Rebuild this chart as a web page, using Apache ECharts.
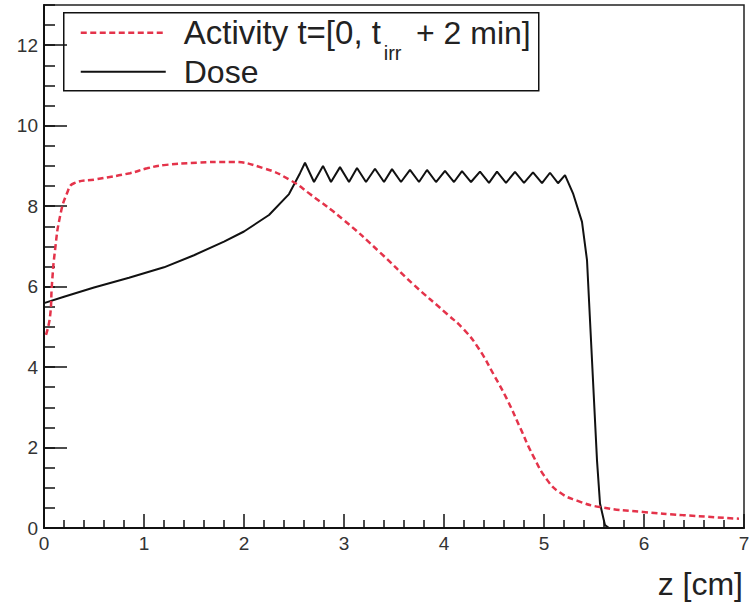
<!DOCTYPE html>
<html>
<head>
<meta charset="utf-8">
<script src="https://cdn.jsdelivr.net/npm/echarts@6/dist/echarts.min.js"></script>
<style>
  html, body { margin: 0; padding: 0; background: #fff; }
  #chart { width: 753px; height: 606px; }
</style>
</head>
<body>
<div id="chart"></div>
<script>
// Depth z [cm] and relative activity (dashed red curve)
const activityZ = [0.02, 0.06, 0.08, 0.11, 0.16, 0.23, 0.30, 0.53, 0.86, 1.03, 1.20, 1.53, 1.86, 2.20, 2.46, 2.66, 3.00, 3.36, 3.70, 4.03, 4.20, 4.35, 4.50, 4.63, 4.76, 4.89, 5.03, 5.16, 5.33, 5.56, 5.99, 6.39, 6.95];
const activityY = [4.80, 5.25, 6.08, 6.90, 7.74, 8.32, 8.57, 8.67, 8.82, 8.94, 9.02, 9.08, 9.10, 8.94, 8.65, 8.30, 7.65, 6.85, 6.04, 5.32, 4.93, 4.45, 3.80, 3.20, 2.50, 1.80, 1.20, 0.88, 0.68, 0.52, 0.40, 0.32, 0.23];

// Depth z [cm] and dose (solid black curve, spread-out Bragg peak)
const doseZ = [0.00, 0.20, 0.50, 0.85, 1.20, 1.50, 1.80, 2.00, 2.25, 2.45, 2.56,
  2.61, 2.70, 2.79, 2.87, 2.96, 3.05, 3.13, 3.22, 3.31, 3.40, 3.48, 3.57, 3.66, 3.75, 3.83, 3.92,
  4.01, 4.10, 4.18, 4.27, 4.36, 4.45, 4.53, 4.62, 4.71, 4.80, 4.89, 4.98, 5.06, 5.14, 5.21,
  5.29, 5.38, 5.43, 5.48, 5.53, 5.56, 5.61, 5.65, 7.00];
const doseY = [5.59, 5.75, 5.98, 6.22, 6.48, 6.78, 7.12, 7.37, 7.78, 8.30, 8.82,
  9.08, 8.60, 9.00, 8.60, 8.97, 8.60, 8.95, 8.60, 8.93, 8.60, 8.92, 8.60, 8.90, 8.60, 8.90, 8.60,
  8.88, 8.60, 8.87, 8.60, 8.86, 8.58, 8.86, 8.58, 8.85, 8.58, 8.84, 8.57, 8.83, 8.57, 8.77,
  8.32, 7.61, 6.66, 4.17, 1.68, 0.61, 0.07, 0.00, 0.00];

// Axis ticks
const xTicks = { min: 0, max: 7, step: 1 };
const yTicks = { min: 0, max: 13, step: 2, minorStep: 0.5 };

const legendLabels = { activityMain: 'Activity t=[0, t', activitySub: 'irr', activityEnd: '+ 2 min]', dose: 'Dose' };
const xTitle = 'z [cm]';

const pairs = (xs, ys) => xs.map((x, i) => [x, ys[i]]);

const FONT = '"Liberation Sans", Arial, Helvetica, sans-serif';
const INK = '#111';
const RED = '#e4334a';

const chart = echarts.init(document.getElementById('chart'), null, { renderer: 'svg' });

chart.setOption({
  animation: false,
  backgroundColor: '#fff',
  grid: {
    left: 44, right: 9, top: 5, bottom: 78,
    show: true, borderColor: '#222', borderWidth: 1.5, backgroundColor: 'transparent'
  },
  title: {
    text: xTitle, right: 10, bottom: 6, padding: 0,
    textStyle: { fontFamily: FONT, fontSize: 32, fontWeight: 'normal', color: '#222' }
  },
  xAxis: {
    type: 'value', min: xTicks.min, max: xTicks.max, interval: xTicks.step,
    axisLine: { show: true, onZero: false, lineStyle: { color: INK, width: 2 } },
    axisTick: { show: true, inside: true, length: 14, lineStyle: { color: INK, width: 1.5 } },
    minorTick: { show: true, splitNumber: 5, length: 8, lineStyle: { color: INK, width: 1.5 } },
    splitLine: { show: false },
    axisLabel: { fontFamily: FONT, fontSize: 19, color: '#333', margin: 6 }
  },
  yAxis: [
    {
      // major ticks with labels every 2 units
      type: 'value', min: yTicks.min, max: yTicks.max, interval: yTicks.step,
      axisLine: { show: true, onZero: false, lineStyle: { color: INK, width: 2 } },
      axisTick: { show: true, inside: true, length: 23, lineStyle: { color: INK, width: 1.5 } },
      splitLine: { show: false },
      axisLabel: { fontFamily: FONT, fontSize: 19, color: '#333', margin: 6, showMaxLabel: false }
    },
    {
      // short ticks every 0.5 units
      type: 'value', min: yTicks.min, max: yTicks.max, interval: yTicks.minorStep, position: 'left',
      axisLine: { show: false },
      axisTick: { show: true, inside: true, length: 11, lineStyle: { color: INK, width: 1.5 } },
      splitLine: { show: false },
      axisLabel: { show: false }
    }
  ],
  series: [
    {
      name: legendLabels.dose, type: 'line', data: pairs(doseZ, doseY),
      symbol: 'none', smooth: false,
      lineStyle: { color: INK, width: 2 }, z: 3
    },
    {
      name: 'Activity', type: 'line', data: pairs(activityZ, activityY),
      symbol: 'none', smooth: 0.5,
      lineStyle: { color: RED, width: 2.5, type: [6, 3.5] }, z: 4
    }
  ],
  graphic: [
    {
      type: 'group', left: 63, top: 12, z: 100,
      children: [
        { type: 'rect', shape: { x: 0, y: 0, width: 475, height: 78 },
          style: { fill: '#fff', stroke: INK, lineWidth: 1.5 } },
        { type: 'line', shape: { x1: 17, y1: 20, x2: 102, y2: 20 },
          style: { stroke: RED, lineWidth: 2.5, lineDash: [6, 3.5] } },
        { type: 'line', shape: { x1: 17, y1: 59, x2: 102, y2: 59 },
          style: { stroke: INK, lineWidth: 2 } },
        { type: 'text', x: 120, y: 20,
          style: { text: legendLabels.activityMain, font: '33px ' + FONT, fill: '#222', verticalAlign: 'middle' } },
        { type: 'text', x: 320, y: 40,
          style: { text: legendLabels.activitySub, font: '20px ' + FONT, fill: '#222', verticalAlign: 'middle' } },
        { type: 'text', x: 467, y: 20,
          style: { text: legendLabels.activityEnd, font: '32px ' + FONT, fill: '#222', align: 'right', verticalAlign: 'middle' } },
        { type: 'text', x: 120, y: 59,
          style: { text: legendLabels.dose, font: '32px ' + FONT, fill: '#222', verticalAlign: 'middle' } }
      ]
    }
  ]
});
</script>
</body>
</html>
